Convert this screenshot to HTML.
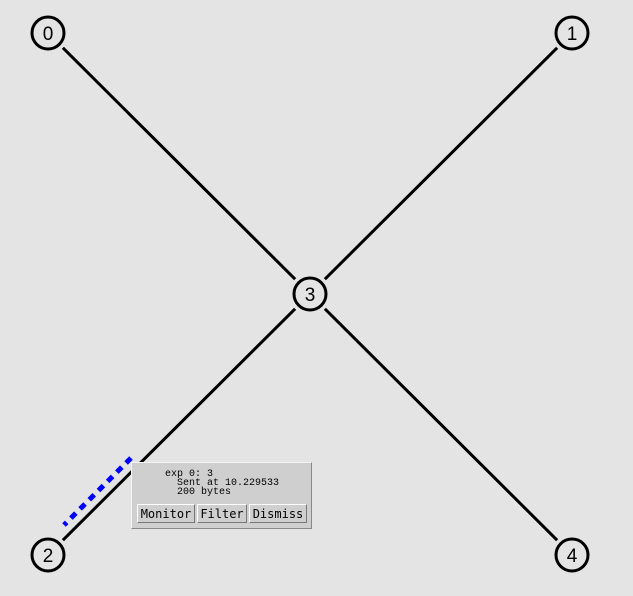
<!DOCTYPE html>
<html><head><meta charset="utf-8"><style>
body{margin:0;background:#e4e4e4;width:633px;height:596px;overflow:hidden;position:relative;font-family:"Liberation Mono","DejaVu Sans Mono",monospace}
#popup{position:absolute;left:131px;top:462px;width:179px;height:65px;background:#cfcfcf;border:1px solid #f4f4f4;border-right-color:#888;border-bottom-color:#888}
.ln{position:absolute;font-size:10px;line-height:9px;color:#000;white-space:pre}
.btn{position:absolute;top:41px;height:19px;background:#cfcfcf;border:1px solid #fff;border-right-color:#777;border-bottom-color:#777;font-size:12px;line-height:19px;text-align:center;box-sizing:border-box;font-family:"DejaVu Sans Mono","Liberation Mono",monospace}
</style></head><body>
<svg id="net" width="633" height="596" style="position:absolute;left:0;top:0"></svg>
<div id="popup">
<div class="ln" style="left:33px;top:7px">exp 0: 3</div>
<div class="ln" style="left:45px;top:16px">Sent at 10.229533</div>
<div class="ln" style="left:45px;top:25px">200 bytes</div>
<div class="btn" style="left:5px;width:58px">Monitor</div>
<div class="btn" style="left:65px;width:50px">Filter</div>
<div class="btn" style="left:117px;width:58px">Dismiss</div>
</div>
<script>
const nodeIds=[0,1,2,3,4];
const nodeX=[48,572,48,310,572];
const nodeY=[33,33,555,294,555];
const linkFrom=[0,1,2,3];
const linkTo=[3,3,3,4];
const R=16;
const svg=document.getElementById('net');
const NS='http://www.w3.org/2000/svg';
for(let i=0;i<linkFrom.length;i++){
  const a=linkFrom[i],b=linkTo[i];
  const dx=nodeX[b]-nodeX[a],dy=nodeY[b]-nodeY[a],L=Math.hypot(dx,dy);
  const ux=dx/L,uy=dy/L;
  const l=document.createElementNS(NS,'line');
  l.setAttribute('x1',nodeX[a]+ux*(R+5));l.setAttribute('y1',nodeY[a]+uy*(R+5));
  l.setAttribute('x2',nodeX[b]-ux*(R+5));l.setAttribute('y2',nodeY[b]-uy*(R+5));
  l.setAttribute('stroke','#000');l.setAttribute('stroke-width','3');
  
  
  svg.appendChild(l);
}
const p=document.createElementNS(NS,'line');
p.setAttribute('x1',131);p.setAttribute('y1',458);p.setAttribute('x2',64);p.setAttribute('y2',525);
p.setAttribute('stroke','#0000ff');p.setAttribute('stroke-width','5');p.setAttribute('stroke-dasharray','7 6');


svg.appendChild(p);
for(let i=0;i<nodeIds.length;i++){
  const g=document.createElementNS(NS,'g');
  
  
  const c=document.createElementNS(NS,'circle');
  c.setAttribute('cx',nodeX[i]);c.setAttribute('cy',nodeY[i]);c.setAttribute('r',R);
  c.setAttribute('fill','none');c.setAttribute('stroke','#000');c.setAttribute('stroke-width','3');
  g.appendChild(c);
  const t=document.createElementNS(NS,'text');
  t.setAttribute('x',nodeX[i]);t.setAttribute('y',nodeY[i]+7);t.setAttribute('text-anchor','middle');
  t.setAttribute('font-size','19');t.setAttribute('font-family','Liberation Sans, sans-serif');
  t.textContent=nodeIds[i];
  g.appendChild(t);
  svg.appendChild(g);
}
</script>
</body></html>
